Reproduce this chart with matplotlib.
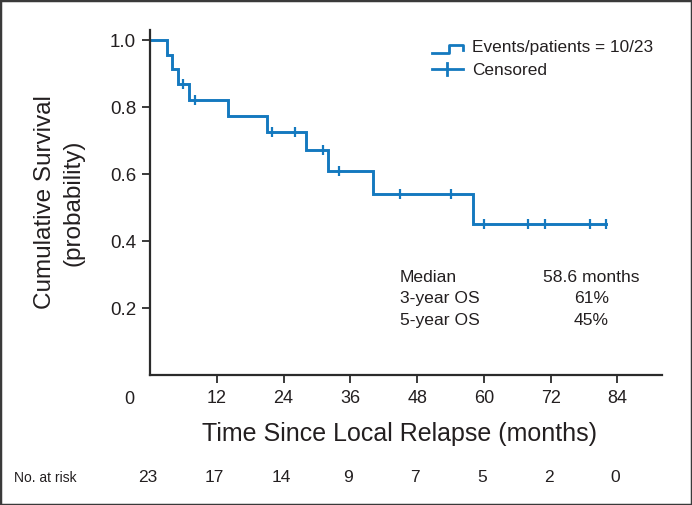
import numpy as np
import matplotlib
matplotlib.use("Agg")
import matplotlib.pyplot as plt
from matplotlib.lines import Line2D
from matplotlib.patches import Rectangle

# Kaplan-Meier curve
event_times = [3.0, 4.0, 5.0, 7.0, 14.0, 21.0, 28.0, 32.0, 40.0, 58.0]
event_surv = [0.957, 0.913, 0.870, 0.822, 0.775, 0.727, 0.671, 0.610, 0.542, 0.452]
censor_times = [6.0, 8.0, 22.0, 26.0, 31.0, 34.0, 45.0, 54.0, 60.0, 68.0, 71.0, 79.0, 82.0]
last_followup = 82.0

x_ticks = [12, 24, 36, 48, 60, 72, 84]
y_ticks = [0.2, 0.4, 0.6, 0.8, 1.0]
risk_times = [0, 12, 24, 36, 48, 60, 72, 84]
n_at_risk = [23, 17, 14, 9, 7, 5, 2, 0]

stat_names = ["Median", "3-year OS", "5-year OS"]
stat_values = ["58.6 months", "61%", "45%"]

BLUE = "#1479bf"
TXT = "#231f20"
FONT = "Liberation Sans"

fig = plt.figure(figsize=(6.92, 5.05), dpi=100)
ax = fig.add_axes([150 / 692, 130 / 505, 512 / 692, 345 / 505])

xs = [0.0] + event_times + [last_followup]
ys = [1.0] + event_surv + [event_surv[-1]]
ax.step(xs, ys, where="post", color=BLUE, lw=2.1, solid_joinstyle="miter")

# censor marks sit on the curve
idx = np.searchsorted(np.array(xs), np.array(censor_times), side="right") - 1
ax.plot(censor_times, np.array(ys)[idx], ls="none", marker="|", ms=7, mew=1.6, color=BLUE)

ax.set_xlim(0, 92)
ax.set_ylim(0, 1.031)
for s in ("top", "right"):
    ax.spines[s].set_visible(False)
for s in ("left", "bottom"):
    ax.spines[s].set_linewidth(1.6)
    ax.spines[s].set_color("#2b2b2b")

ax.set_xticks(x_ticks)
ax.set_xticklabels([str(t) for t in x_ticks], fontfamily=FONT, fontsize=13, color=TXT)
ax.set_yticks(y_ticks)
ax.set_yticklabels([f"{t:.1f}" for t in y_ticks], fontfamily=FONT, fontsize=13.5, color=TXT)
ax.tick_params(axis="both", direction="out", length=6, width=1.3, color="#2b2b2b")
ax.tick_params(axis="x", pad=5)
ax.tick_params(axis="y", pad=4)
ax.annotate("0", xy=(0, 0), xycoords=("data", "axes fraction"), xytext=(-21, -25),
            textcoords="offset pixels", ha="center", va="center",
            fontfamily=FONT, fontsize=13, color=TXT)

ax.set_xlabel("Time Since Local Relapse (months)", fontfamily=FONT, fontsize=18,
              color=TXT)
ax.xaxis.set_label_coords(0.487, -0.135)
ax.set_ylabel("Cumulative Survival\n(probability)", fontfamily=FONT, fontsize=17.5,
              color=TXT, linespacing=1.4)
ax.yaxis.set_label_coords(-0.128, 0.5)

# legend drawn by hand (step icon + censor cross)
tr = ax.transAxes
ax.add_line(Line2D([0.551, 0.584, 0.584, 0.611, 0.611], [0.933, 0.933, 0.957, 0.957, 0.942],
                   transform=tr, color=BLUE, lw=2.0, clip_on=False))
ax.add_line(Line2D([0.551, 0.611], [0.887, 0.887], transform=tr, color=BLUE, lw=2.0, clip_on=False))
ax.add_line(Line2D([0.580, 0.580], [0.870, 0.904], transform=tr, color=BLUE, lw=2.0, clip_on=False))
ax.text(0.629, 0.950, "Events/patients = 10/23", transform=tr, va="center", ha="left",
        fontfamily=FONT, fontsize=12.4, color=TXT)
ax.text(0.629, 0.884, "Censored", transform=tr, va="center", ha="left",
        fontfamily=FONT, fontsize=12.4, color=TXT)

# summary statistics
for i, (name, val) in enumerate(zip(stat_names, stat_values)):
    yy = 0.284 - i * 0.0635
    ax.text(0.488, yy, name, transform=tr, va="center", ha="left",
            fontfamily=FONT, fontsize=12.6, color=TXT)
    ax.text(0.862, yy, val, transform=tr, va="center", ha="center",
            fontfamily=FONT, fontsize=12.6, color=TXT)

# number at risk row
for t, n in zip(risk_times, n_at_risk):
    ax.annotate(str(n), xy=(t, 0), xycoords=("data", "axes fraction"), xytext=(-2, -103),
                textcoords="offset pixels", ha="center", va="center",
                fontfamily=FONT, fontsize=12.5, color=TXT)
fig.text(14 / 692, 1 - 478 / 505, "No. at risk", ha="left", va="center",
         fontfamily=FONT, fontsize=10, color=TXT)

fig.patches.append(Rectangle((0, 0), 1, 1, transform=fig.transFigure, fill=False,
                             lw=2.5, ec="#3a3a3a"))

fig.savefig("out.png", dpi=100)
